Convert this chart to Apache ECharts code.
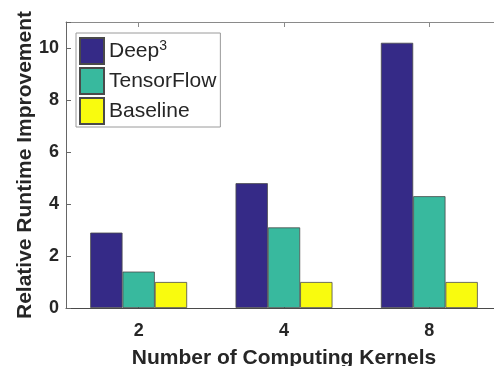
<!DOCTYPE html>
<html>
<head>
<meta charset="utf-8">
<script src="https://cdn.jsdelivr.net/npm/echarts@6/dist/echarts.min.js"></script>
<style>html,body{margin:0;padding:0;background:#fff;}#c{width:494px;height:366px;}</style>
</head>
<body>
<div id="c"></div>
<script>
var categories = ['2', '4', '8'];
var deep3 = [2.9, 4.8, 10.2];
var tensorflow = [1.4, 3.1, 4.3];
var baseline = [1.0, 1.0, 1.0];
var yTicks = [0, 2, 4, 6, 8, 10];

var FONT = '"Liberation Sans", Arial, Helvetica, sans-serif';
var TXT = '#262626';
var chart = echarts.init(document.getElementById('c'), null, {renderer: 'canvas'});
var barStyle = function (c) {
  return {color: c, borderColor: '#4a4a4a', borderWidth: 0.8};
};
chart.setOption({
  animation: false,
  backgroundColor: '#fff',
  grid: {left: 66, width: 436, top: 22, height: 286, containLabel: false, outerBoundsMode: 'none'},
  legend: {
    orient: 'vertical',
    left: 76, top: 33,
    padding: [4, 4, 2, 3],
    itemWidth: 24, itemHeight: 26, itemGap: 2, itemTextGap: 4,
    backgroundColor: '#fff',
    borderColor: '#9a9a9a', borderWidth: 1,
    icon: 'rect',
    textStyle: {
      fontFamily: FONT, fontSize: 21, color: TXT, lineHeight: 26,
      rich: {
        sup: {fontFamily: FONT, fontSize: 14, color: TXT, padding: [0, 0, 9, 0], lineHeight: 26}
      }
    },
    formatter: function (n) { return n === 'Deep3' ? 'Deep{sup|3}' : n; },
    data: ['Deep3', 'TensorFlow', 'Baseline']
  },
  xAxis: [{
    type: 'category', data: categories, position: 'bottom',
    axisLine: {show: true, lineStyle: {color: '#4a4a4a', width: 1}},
    axisTick: {show: true, inside: true, alignWithLabel: true, length: 5, lineStyle: {color: '#4a4a4a'}},
    axisLabel: {fontFamily: FONT, fontSize: 18, fontWeight: 'bold', color: TXT, margin: 14},
    name: 'Number of Computing Kernels', nameLocation: 'middle', nameGap: 40, nameMoveOverlap: false,
    nameTextStyle: {fontFamily: FONT, fontSize: 21, fontWeight: 'bold', color: TXT}
  }, {
    type: 'category', data: categories, position: 'top',
    axisLine: {show: true, lineStyle: {color: '#8a8a8a', width: 1}},
    axisTick: {show: true, inside: true, alignWithLabel: true, length: 5, lineStyle: {color: '#8a8a8a'}},
    axisLabel: {show: false}
  }],
  yAxis: [{
    type: 'value', min: 0, max: 11, interval: 2,
    axisLine: {show: true, lineStyle: {color: '#666', width: 1}},
    axisTick: {show: true, inside: true, length: 5, lineStyle: {color: '#666'}},
    splitLine: {show: false},
    axisLabel: {
      fontFamily: FONT, fontSize: 18, fontWeight: 'bold', color: TXT, margin: 7,
      formatter: function (v) { return yTicks.indexOf(v) >= 0 ? String(v) : ''; }
    },
    name: 'Relative Runtime Improvement', nameLocation: 'middle', nameGap: 30, nameMoveOverlap: false,
    nameTextStyle: {fontFamily: FONT, fontSize: 21, fontWeight: 'bold', color: TXT}
  }],
  series: [
    {name: 'Deep3', type: 'bar', data: deep3, barWidth: 32.3, barGap: '0%', itemStyle: barStyle('#352a87')},
    {name: 'TensorFlow', type: 'bar', data: tensorflow, barWidth: 32.3, barGap: '0%', itemStyle: barStyle('#38b99e')},
    {name: 'Baseline', type: 'bar', data: baseline, barWidth: 32.3, barGap: '0%', itemStyle: barStyle('#f9fb0e')}
  ]
});
</script>
</body>
</html>
